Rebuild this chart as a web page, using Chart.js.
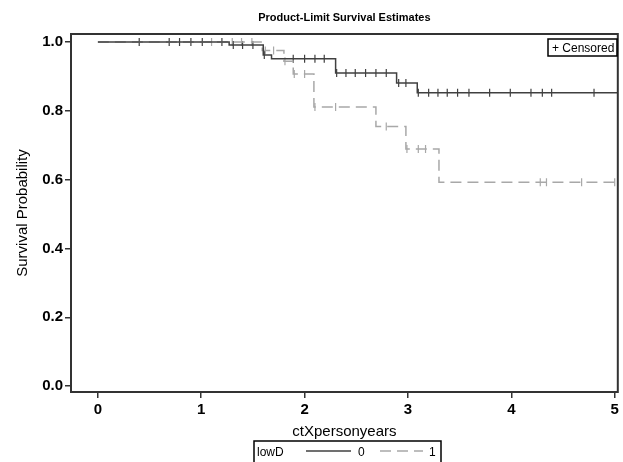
<!DOCTYPE html>
<html>
<head>
<meta charset="utf-8">
<script src="https://cdn.jsdelivr.net/npm/chart.js@4.4.0/dist/chart.umd.min.js"></script>
<style>
  html, body { margin: 0; padding: 0; background: #fff; }
  #wrap { width: 623px; height: 462px; }
</style>
</head>
<body>
<div id="wrap"><canvas id="km"></canvas></div>
<script>
// drop times and the estimate right after each drop
const times0 = [0, 1.27, 1.60, 1.68, 2.30, 2.89, 3.09];
const surv0  = [1.0, 0.991, 0.962, 0.951, 0.910, 0.881, 0.852];
const times1 = [0, 1.59, 1.80, 1.89, 2.09, 2.69, 2.98, 3.30];
const surv1  = [1.0, 0.975, 0.944, 0.907, 0.811, 0.754, 0.689, 0.592];
const end0 = 5.03;
const end1 = 5.0;
// censored times
const censor0 = [0.40, 0.69, 0.79, 0.90, 1.01, 1.20, 1.31, 1.40, 1.50, 1.61, 1.89, 2.00, 2.10, 2.19,
  2.31, 2.40, 2.49, 2.59, 2.69, 2.79, 2.91, 2.98, 3.10, 3.20, 3.29, 3.38, 3.48, 3.59, 3.79, 3.99,
  4.19, 4.30, 4.39, 4.80];
const censor1 = [1.10, 1.30, 1.39, 1.49, 1.62, 1.70, 1.81, 1.90, 2.00, 2.10, 2.30, 2.79, 2.99,
  3.10, 3.17, 4.28, 4.34, 4.68, 5.0];
const xTicks = [0, 1, 2, 3, 4, 5];
const yTicks = [0, 0.2, 0.4, 0.6, 0.8, 1.0];
const groupNames = ['0', '1'];

const dark = '#404040';
const gray = '#a8a8a8';

function survAt(times, surv, t) {
  let s = surv[0];
  for (let i = 0; i < times.length; i++) if (t >= times[i]) s = surv[i];
  return s;
}
function curve(times, surv, end) {
  const pts = times.map((t, i) => ({x: t, y: surv[i]}));
  pts.push({x: end, y: surv[surv.length - 1]});
  return pts;
}
function marks(cens, times, surv) {
  return cens.map(t => ({x: t, y: survAt(times, surv, t)}));
}

const framePlugin = {
  id: 'frame',
  afterDraw(chart) {
    const {ctx, chartArea: a} = chart;
    ctx.save();
    ctx.strokeStyle = '#333';
    ctx.lineWidth = 2;
    ctx.strokeRect(a.left, a.top, a.right - a.left, a.bottom - a.top);

    // censored key, top right
    ctx.lineWidth = 1.5;
    ctx.strokeStyle = '#000';
    ctx.strokeRect(548, 39, 69, 17);
    ctx.fillStyle = '#000';
    ctx.font = '12px "Liberation Sans", Arial, sans-serif';
    ctx.textBaseline = 'alphabetic';
    ctx.fillText('+ Censored', 552, 52);

    // group legend, bottom
    ctx.strokeRect(254, 441, 187, 30);
    ctx.fillText('lowD', 257, 456);
    const ds = chart.data.datasets;
    ctx.lineWidth = 1.5;
    ctx.strokeStyle = ds[0].borderColor;
    ctx.beginPath(); ctx.moveTo(306, 451); ctx.lineTo(351, 451); ctx.stroke();
    ctx.fillText(groupNames[0], 358, 456);
    ctx.strokeStyle = ds[1].borderColor;
    ctx.setLineDash(ds[1].borderDash);
    ctx.beginPath(); ctx.moveTo(380, 451); ctx.lineTo(423, 451); ctx.stroke();
    ctx.setLineDash([]);
    ctx.fillText(groupNames[1], 429, 456);
    ctx.restore();
  }
};

const tickFont = {family: '"Liberation Sans", Arial, sans-serif', size: 15, weight: 'bold'};
const titleFont = {family: '"Liberation Sans", Arial, sans-serif', size: 15};

new Chart(document.getElementById('km'), {
  type: 'line',
  data: {
    datasets: [
      {label: groupNames[0], data: curve(times0, surv0, end0), stepped: 'before',
       borderColor: dark, borderWidth: 1.5, pointRadius: 0, fill: false},
      {label: groupNames[1], data: curve(times1, surv1, end1), stepped: 'before',
       borderColor: gray, borderWidth: 1.5, borderDash: [11, 6], pointRadius: 0, fill: false},
      {label: 'c0', data: marks(censor0, times0, surv0), showLine: false,
       pointStyle: 'line', rotation: 90, pointRadius: 4, borderColor: dark, borderWidth: 1.2},
      {label: 'c1', data: marks(censor1, times1, surv1), showLine: false,
       pointStyle: 'line', rotation: 90, pointRadius: 4, borderColor: gray, borderWidth: 1.2}
    ]
  },
  options: {
    responsive: true,
    maintainAspectRatio: false,
    animation: false,
    events: [],
    layout: {padding: {top: 0, right: 2, bottom: 0, left: 0}},
    plugins: {
      legend: {display: false},
      tooltip: {enabled: false},
      title: {
        display: true,
        text: 'Product-Limit Survival Estimates',
        fullSize: false,
        color: '#000',
        font: {family: '"Liberation Sans", Arial, sans-serif', size: 11, weight: 'bold'},
        padding: {top: 11, bottom: 9.8}
      }
    },
    scales: {
      x: {
        type: 'linear',
        min: -0.26,
        max: 5.03,
        afterBuildTicks: s => { s.ticks = xTicks.map(v => ({value: v})); },
        afterFit: s => { s.height = 70; },
        ticks: {font: tickFont, color: '#000', padding: 3, maxRotation: 0},
        grid: {drawOnChartArea: false, drawTicks: true, tickLength: 6, color: '#333', lineWidth: 1.5},
        border: {display: false},
        title: {display: true, text: 'ctXpersonyears', color: '#000', font: titleFont,
                padding: {top: 0, bottom: 21.6}}
      },
      y: {
        min: -0.017,
        max: 1.023,
        afterBuildTicks: s => { s.ticks = yTicks.map(v => ({value: v})); },
        afterFit: s => { s.width = 71; },
        ticks: {font: tickFont, color: '#000', padding: 2, callback: v => v.toFixed(1)},
        grid: {drawOnChartArea: false, drawTicks: true, tickLength: 6, color: '#333', lineWidth: 1.5},
        border: {display: false},
        title: {display: true, text: 'Survival Probability', color: '#000', font: titleFont,
                padding: {top: 13.6, bottom: 0}}
      }
    }
  },
  plugins: [framePlugin]
});
</script>
</body>
</html>
